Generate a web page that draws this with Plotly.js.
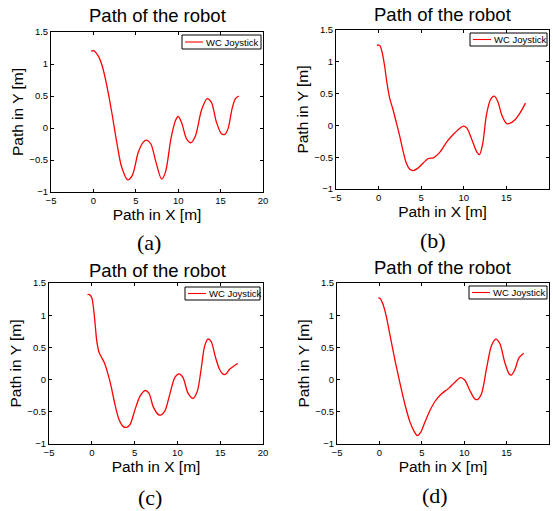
<!DOCTYPE html>
<html>
<head>
<meta charset="utf-8">
<script src="https://cdn.plot.ly/plotly-3.0.1.min.js"></script>
<style>html,body{margin:0;padding:0;background:#fff;}#chart{width:553px;height:511px;}</style>
</head>
<body>
<div id="chart"></div>
<script>
// Panel (a)
const xA = [-0.27, 0, 0.6, 1.06, 1.57, 2.16, 2.75, 3.33, 4.04, 4.59, 5.29, 5.88, 6.27, 6.78, 7.37, 8.04, 8.5, 9.14, 9.69, 10.0, 10.39, 10.98, 11.5, 12.04, 12.75, 13.41, 13.92, 14.51, 15.1, 15.5, 15.88, 16.35, 16.75, 17.14];
const yA = [1.20, 1.21, 1.12, 0.96, 0.67, 0.25, -0.22, -0.61, -0.81, -0.74, -0.38, -0.22, -0.19, -0.25, -0.53, -0.80, -0.69, -0.17, 0.12, 0.18, 0.09, -0.17, -0.23, -0.12, 0.28, 0.46, 0.40, 0.09, -0.09, -0.10, -0.01, 0.30, 0.46, 0.50];
// Panel (b)
const xB = [-0.2, 0.12, 0.43, 0.71, 0.98, 1.3, 1.69, 2.09, 2.48, 2.87, 3.27, 3.66, 4.06, 4.53, 5.24, 5.83, 6.42, 7.2, 8.0, 8.78, 9.57, 9.96, 10.35, 10.94, 11.54, 11.85, 12.24, 12.64, 13.11, 13.58, 13.98, 14.49, 15.0, 15.39, 15.94, 16.57, 17.24];
const yB = [1.26, 1.26, 1.14, 0.93, 0.67, 0.43, 0.25, 0.04, -0.17, -0.40, -0.60, -0.69, -0.71, -0.68, -0.59, -0.52, -0.51, -0.42, -0.26, -0.14, -0.04, -0.01, -0.04, -0.22, -0.42, -0.46, -0.27, 0.15, 0.40, 0.46, 0.38, 0.15, 0.03, 0.03, 0.08, 0.19, 0.35];
// Panel (c)
const xC = [-0.5, -0.27, 0, 0.19, 0.39, 0.58, 0.85, 1.16, 1.47, 1.86, 2.25, 2.71, 3.18, 3.68, 4.07, 4.46, 5.04, 5.62, 6.2, 6.67, 7.17, 7.75, 8.06, 8.53, 9.11, 9.69, 10.19, 10.66, 11.24, 11.82, 12.33, 12.79, 13.18, 13.57, 13.95, 14.42, 14.92, 15.39, 15.7, 16.09, 16.59, 17.05];
const yC = [1.32, 1.32, 1.27, 1.12, 0.86, 0.60, 0.42, 0.34, 0.26, 0.10, -0.10, -0.39, -0.62, -0.73, -0.74, -0.70, -0.47, -0.26, -0.17, -0.21, -0.42, -0.54, -0.55, -0.49, -0.23, 0.03, 0.09, 0.03, -0.21, -0.29, -0.18, 0.18, 0.52, 0.63, 0.59, 0.36, 0.16, 0.08, 0.09, 0.16, 0.21, 0.25];
// Panel (d)
const xD = [-0.12, 0.08, 0.39, 0.78, 1.25, 1.84, 2.43, 3.02, 3.61, 4.08, 4.47, 4.86, 5.37, 5.96, 6.55, 7.33, 8.12, 8.9, 9.57, 10.08, 10.67, 11.25, 11.57, 12.04, 12.63, 13.22, 13.73, 14.2, 14.78, 15.29, 15.57, 15.96, 16.47, 17.02];
const yD = [1.27, 1.26, 1.18, 1.0, 0.69, 0.30, -0.06, -0.39, -0.66, -0.80, -0.87, -0.82, -0.66, -0.48, -0.34, -0.22, -0.14, -0.04, 0.03, -0.01, -0.17, -0.30, -0.31, -0.22, 0.17, 0.53, 0.63, 0.56, 0.27, 0.09, 0.07, 0.15, 0.34, 0.41];

const seriesName = "WC Joystick";
const plotTitle = "Path of the robot";
const xTitle = "Path in X [m]";
const yTitle = "Path in Y [m]";
const panelLabels = ["(a)", "(b)", "(c)", "(d)"];
const xTickVals = [-5, 0, 5, 10, 15, 20];
const yTickVals = [-1, -0.5, 0, 0.5, 1, 1.5];

const W = 553, H = 511;
const FONT = "Liberation Sans, Arial, Helvetica, sans-serif";
// pixel boxes [left, right, top, bottom]
const boxes = [[51, 263, 32, 192], [336, 549, 30, 189], [49, 263, 283, 444], [337, 549, 283, 444]];
const labelPos = [[149, 242], [433, 240], [150, 497], [435, 495]];
const titlePos = [[157, 15], [442, 14], [157, 270], [442, 267]];
const legBox = [[182, 261, 35, 49], [470, 547, 33, 46], [185, 260, 287, 300], [469, 547, 286, 299]];

const px = v => v / W;
const py = v => 1 - v / H;

const datasets = [[xA, yA], [xB, yB], [xC, yC], [xD, yD]];
const data = [];
const layout = {
  width: W, height: H,
  margin: {l: 0, r: 0, t: 0, b: 0},
  paper_bgcolor: "#fff", plot_bgcolor: "#fff",
  font: {family: FONT, color: "#000"},
  showlegend: false,
  annotations: [],
  shapes: []
};

datasets.forEach((d, i) => {
  const n = i === 0 ? "" : String(i + 1);
  const b = boxes[i];
  data.push({
    x: d[0], y: d[1], type: "scatter", mode: "lines",
    line: {color: "#ff0000", width: 1.3, shape: "spline", smoothing: 0.8},
    name: seriesName, xaxis: "x" + n, yaxis: "y" + n
  });
  const common = {
    showline: true, linecolor: "#000", linewidth: 1, mirror: "ticks",
    ticks: "inside", ticklen: 3, tickcolor: "#000", tickwidth: 1,
    showgrid: false, zeroline: false,
    tickfont: {size: 9.5, family: FONT, color: "#000"}
  };
  layout["xaxis" + n] = Object.assign({}, common, {
    domain: [px(b[0]), px(b[1])], anchor: "y" + n,
    range: [-5, 20], tickvals: xTickVals,
    title: {text: xTitle, font: {size: 15.5, family: FONT}, standoff: 3}
  });
  layout["yaxis" + n] = Object.assign({}, common, {
    domain: [py(b[3]), py(b[2])], anchor: "x" + n,
    range: [-1, 1.5], tickvals: yTickVals,
    title: {text: yTitle, font: {size: 15.5, family: FONT}, standoff: 1}
  });
  // legend box (drawn manually for MATLAB-style compact legend)
  const L = legBox[i];
  const midY = (L[2] + L[3]) / 2;
  layout.shapes.push({
    type: "rect", xref: "paper", yref: "paper", layer: "above",
    x0: px(L[0]), x1: px(L[1]), y0: py(L[3]), y1: py(L[2]),
    fillcolor: "#fff", line: {color: "#000", width: 1}
  });
  layout.shapes.push({
    type: "line", xref: "paper", yref: "paper", layer: "above",
    x0: px(L[0] + 3), x1: px(L[0] + 21), y0: py(midY), y1: py(midY),
    line: {color: "#ff0000", width: 1.1}
  });
  layout.annotations.push({
    text: seriesName, xref: "paper", yref: "paper",
    x: px(L[0] + 22), y: py(midY), xanchor: "left", yanchor: "middle",
    showarrow: false, font: {size: 9.5, family: FONT, color: "#000"}
  });
  layout.annotations.push({
    text: plotTitle, xref: "paper", yref: "paper",
    x: px(titlePos[i][0]), y: py(titlePos[i][1]),
    xanchor: "center", yanchor: "middle", showarrow: false,
    font: {size: 18.5, family: FONT, color: "#000"}
  });
  layout.annotations.push({
    text: panelLabels[i], xref: "paper", yref: "paper",
    x: px(labelPos[i][0]), y: py(labelPos[i][1]),
    xanchor: "center", yanchor: "middle", showarrow: false,
    font: {size: 22, family: "Liberation Serif, Times New Roman, serif", color: "#000"}
  });
});

Plotly.newPlot("chart", data, layout, {staticPlot: true, displayModeBar: false});
</script>
</body>
</html>
